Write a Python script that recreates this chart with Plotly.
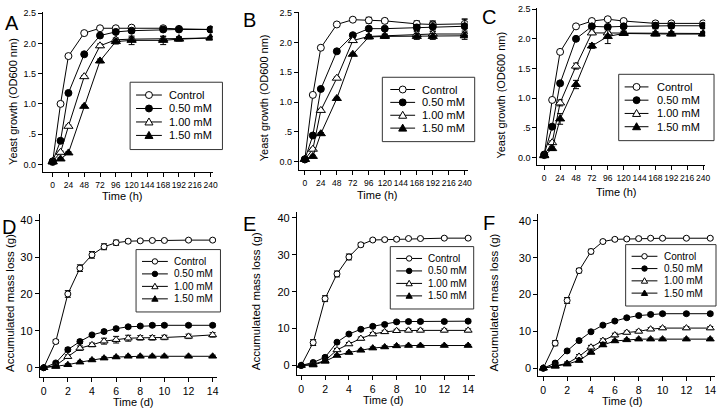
import plotly.graph_objects as go

W, H = 723, 409
FONT = "Arial, Liberation Sans, sans-serif"

series_names = ["Control", "0.50 mM", "1.00 mM", "1.50 mM"]
hours = [0, 12, 24, 48, 72, 96, 120, 168, 192, 240]
days = [0, 1, 2, 3, 4, 5, 6, 7, 8, 9, 10, 12, 14]
hour_ticks = [0, 24, 48, 72, 96, 120, 144, 168, 192, 216, 240]
day_ticks = [0, 2, 4, 6, 8, 10, 12, 14]
od_ticks = [0, 0.5, 1.0, 1.5, 2.0, 2.5]
od_tick_text = ["0.0", ".5", "1.0", "1.5", "2.0", "2.5"]
mass_ticks = [0, 10, 20, 30, 40]

# Panel A - yeast growth (OD600)
a_control = [0.04, 1.00, 1.79, 2.17, 2.25, 2.25, 2.26, 2.25, 2.24, 2.23]
a_050 = [0.05, 0.39, 1.18, 1.82, 2.13, 2.19, 2.21, 2.23, 2.23, 2.23]
a_100 = [0.05, 0.20, 0.63, 1.45, 1.96, 2.06, 2.07, 2.07, 2.08, 2.09]
a_150 = [0.04, 0.09, 0.19, 0.96, 1.71, 2.03, 2.05, 2.05, 2.07, 2.09]
a_err_control = [0.01, 0.02, 0.02, 0.02, 0.02, 0.02, 0.02, 0.03, 0.03, 0.02]
a_err_050 = [0.01, 0.02, 0.02, 0.02, 0.02, 0.02, 0.03, 0.03, 0.03, 0.03]
a_err_100 = [0.01, 0.02, 0.02, 0.02, 0.03, 0.03, 0.03, 0.04, 0.03, 0.02]
a_err_150 = [0.01, 0.02, 0.02, 0.02, 0.03, 0.04, 0.07, 0.07, 0.03, 0.02]

# Panel B
b_control = [0.04, 1.12, 1.91, 2.30, 2.38, 2.37, 2.36, 2.31, 2.30, 2.31]
b_050 = [0.04, 0.44, 1.22, 1.85, 2.12, 2.23, 2.23, 2.25, 2.26, 2.27]
b_100 = [0.04, 0.21, 0.86, 1.40, 2.03, 2.10, 2.11, 2.13, 2.14, 2.14]
b_150 = [0.04, 0.09, 0.47, 1.06, 1.80, 2.09, 2.10, 2.10, 2.10, 2.11]
b_err_control = [0.01, 0.02, 0.02, 0.02, 0.03, 0.05, 0.04, 0.05, 0.06, 0.08]
b_err_050 = [0.01, 0.02, 0.02, 0.02, 0.02, 0.03, 0.03, 0.05, 0.08, 0.12]
b_err_100 = [0.01, 0.02, 0.02, 0.02, 0.03, 0.03, 0.03, 0.05, 0.05, 0.05]
b_err_150 = [0.01, 0.02, 0.02, 0.02, 0.02, 0.03, 0.03, 0.05, 0.05, 0.06]

# Panel C
c_control = [0.04, 0.97, 1.78, 2.21, 2.30, 2.33, 2.30, 2.26, 2.26, 2.26]
c_050 = [0.05, 0.52, 1.25, 2.00, 2.21, 2.20, 2.21, 2.22, 2.22, 2.22]
c_100 = [0.04, 0.25, 0.92, 1.54, 2.10, 2.10, 2.10, 2.09, 2.09, 2.09]
c_150 = [0.03, 0.15, 0.65, 1.23, 1.88, 2.04, 2.09, 2.08, 2.08, 2.08]
c_err_control = [0.01, 0.02, 0.02, 0.02, 0.02, 0.02, 0.02, 0.03, 0.03, 0.03]
c_err_050 = [0.01, 0.03, 0.03, 0.02, 0.03, 0.03, 0.03, 0.05, 0.04, 0.04]
c_err_100 = [0.01, 0.03, 0.05, 0.05, 0.03, 0.03, 0.03, 0.03, 0.03, 0.03]
c_err_150 = [0.01, 0.03, 0.09, 0.07, 0.04, 0.12, 0.03, 0.03, 0.03, 0.03]

# Panel D - accumulated mass loss (g)
d_control = [0, 7.1, 20.0, 27.0, 30.6, 32.8, 33.9, 34.3, 34.4, 34.5, 34.5, 34.6, 34.6]
d_050 = [0, 1.3, 4.9, 7.1, 8.9, 9.8, 10.6, 11.1, 11.3, 11.5, 11.5, 11.5, 11.5]
d_100 = [0, 0.6, 3.0, 5.3, 6.2, 7.2, 7.6, 8.0, 8.1, 8.1, 8.2, 8.5, 8.9]
d_150 = [0, 0.3, 0.8, 1.5, 2.1, 2.6, 2.9, 3.1, 3.1, 3.1, 3.1, 3.1, 3.1]
d_err_control = [0.2, 0.5, 0.9, 0.9, 0.9, 0.8, 0.7, 0.5, 0.4, 0.3, 0.3, 0.3, 0.3]
d_err_050 = [0.2, 0.3, 0.5, 0.5, 0.4, 0.4, 0.4, 0.4, 0.4, 0.4, 0.4, 0.4, 0.4]
d_err_100 = [0.2, 0.3, 0.5, 0.6, 0.5, 0.8, 0.9, 0.8, 0.6, 0.6, 0.6, 0.6, 0.6]
d_err_150 = [0.2, 0.2, 0.3, 0.3, 0.3, 0.3, 0.3, 0.3, 0.3, 0.3, 0.3, 0.3, 0.3]

# Panel E
e_control = [0, 6.2, 18.1, 24.8, 29.4, 32.7, 34.0, 34.1, 34.2, 34.4, 34.4, 34.5, 34.5]
e_050 = [0, 0.8, 2.2, 6.3, 8.5, 9.8, 10.6, 11.1, 11.8, 11.9, 11.9, 11.9, 12.0]
e_100 = [0, 0.3, 1.3, 4.2, 5.8, 7.3, 8.5, 9.1, 9.4, 9.5, 9.5, 9.5, 9.5]
e_150 = [0, 0.1, 1.1, 2.7, 3.5, 4.1, 4.7, 5.0, 5.3, 5.4, 5.4, 5.4, 5.4]
e_err_control = [0.2, 0.8, 0.8, 0.8, 0.8, 0.5, 0.4, 0.4, 0.4, 0.3, 0.3, 0.3, 0.3]
e_err_050 = [0.2, 0.3, 0.4, 0.4, 0.4, 0.4, 0.4, 0.4, 0.4, 0.4, 0.4, 0.4, 0.4]
e_err_100 = [0.2, 0.3, 0.4, 0.4, 0.4, 0.4, 0.4, 0.4, 0.4, 0.4, 0.4, 0.4, 0.4]
e_err_150 = [0.2, 0.2, 0.3, 0.3, 0.3, 0.3, 0.3, 0.3, 0.3, 0.3, 0.3, 0.3, 0.3]

# Panel F
f_control = [0, 6.8, 18.4, 26.5, 31.7, 34.4, 35.0, 35.1, 35.2, 35.3, 35.3, 35.3, 35.3]
f_050 = [0, 1.4, 4.7, 7.5, 9.9, 11.7, 12.8, 13.7, 14.3, 14.6, 14.8, 14.8, 14.8]
f_100 = [0, 0.7, 1.3, 3.2, 5.7, 7.5, 9.0, 9.7, 10.0, 10.6, 10.9, 10.9, 10.9]
f_150 = [0, 0.5, 1.1, 2.1, 4.3, 6.3, 7.4, 7.7, 7.9, 7.9, 7.9, 7.9, 7.9]
f_err_control = [0.2, 0.7, 0.8, 0.6, 0.6, 0.4, 0.4, 0.4, 0.4, 0.3, 0.3, 0.3, 0.3]
f_err_050 = [0.2, 0.3, 0.4, 0.4, 0.4, 0.4, 0.4, 0.4, 0.4, 0.4, 0.4, 0.4, 0.4]
f_err_100 = [0.2, 0.3, 0.4, 0.5, 0.5, 0.5, 0.5, 0.4, 0.4, 0.4, 0.4, 0.4, 0.4]
f_err_150 = [0.2, 0.2, 0.3, 0.4, 0.4, 0.4, 0.3, 0.3, 0.3, 0.3, 0.3, 0.3, 0.3]

panels = [
    dict(letter="A", x=hours, ys=[a_control, a_050, a_100, a_150],
         errs=[a_err_control, a_err_050, a_err_100, a_err_150]),
    dict(letter="B", x=hours, ys=[b_control, b_050, b_100, b_150],
         errs=[b_err_control, b_err_050, b_err_100, b_err_150]),
    dict(letter="C", x=hours, ys=[c_control, c_050, c_100, c_150],
         errs=[c_err_control, c_err_050, c_err_100, c_err_150]),
    dict(letter="D", x=days, ys=[d_control, d_050, d_100, d_150],
         errs=[d_err_control, d_err_050, d_err_100, d_err_150]),
    dict(letter="E", x=days, ys=[e_control, e_050, e_100, e_150],
         errs=[e_err_control, e_err_050, e_err_100, e_err_150]),
    dict(letter="F", x=days, ys=[f_control, f_050, f_100, f_150],
         errs=[f_err_control, f_err_050, f_err_100, f_err_150]),
]

# layout geometry in pixels: plot box (left, right, top, bottom), axis ranges,
# legend box (x0, y0, x1, y1), key line (start, end offsets), text offset
geom = [
    dict(px=(43, 214, 8, 170), xr=(-15.1, 243.0), yr=(-0.131, 2.52),
         leg=(131, 79, 224, 147), key=(6, 32, 37), lt=(12, 19), yt=(13, 98), xt=(123, 194)),
    dict(px=(301, 471, 8, 168), xr=(-8.9, 244.5), yr=(-0.144, 2.51),
         leg=(385, 74, 478, 139), key=(8, 33, 38), lt=(251, 16), yt=(266, 95), xt=(380, 193)),
    dict(px=(541, 710, 4, 163), xr=(-10.5, 243.0), yr=(-0.133, 2.52),
         leg=(623, 71, 719, 138), key=(6, 30, 37), lt=(492, 13), yt=(505, 92), xt=(621, 190)),
    dict(px=(40, 219, 212, 377), xr=(-0.33, 14.4), yr=(-2.6, 41.7),
         leg=(137, 248, 222, 311), key=(6, 32, 36), lt=(9, 225), yt=(10, 302), xt=(134, 402)),
    dict(px=(299, 478, 210, 375), xr=(-0.36, 14.55), yr=(-2.68, 41.6),
         leg=(393, 245, 477, 308), key=(6, 32, 36), lt=(251, 222), yt=(258, 300), xt=(386, 400)),
    dict(px=(542, 720, 212, 376), xr=(-0.42, 14.4), yr=(-2.2, 41.9),
         leg=(630, 243, 721, 305), key=(6, 32, 37), lt=(492, 221), yt=(497, 302), xt=(627, 401)),
]

symbols = ["circle", "circle", "triangle-up", "triangle-up"]
fills = ["white", "black", "white", "black"]


def fx(px):
    return px / W


def fy(py):
    return 1 - py / H


fig = go.Figure()
annotations = []
shapes = []
layout = dict(width=W, height=H, autosize=False,
              margin=dict(l=0, r=0, t=0, b=0),
              paper_bgcolor="white", plot_bgcolor="white",
              font=dict(family=FONT, color="black"),
              showlegend=False)


def add_legend(g, fontsize, msize):
    x0, y0, x1, y1 = g["leg"]
    ks, ke, kt = g["key"]
    h = y1 - y0
    shapes.append(dict(type="rect", xref="paper", yref="paper",
                       x0=fx(x0), x1=fx(x1), y0=fy(y1), y1=fy(y0),
                       fillcolor="white", line=dict(color="#333333", width=1),
                       layer="above"))
    for k, name in enumerate(series_names):
        cy = y0 + h * (0.19 + 0.2 * k)
        cx = x0 + (ks + ke) / 2
        shapes.append(dict(type="line", xref="paper", yref="paper",
                           x0=fx(x0 + ks), x1=fx(x0 + ke), y0=fy(cy), y1=fy(cy),
                           line=dict(color="black", width=1), layer="above"))
        r = msize / 2
        if symbols[k] == "circle":
            shapes.append(dict(type="circle", xref="paper", yref="paper",
                               x0=fx(cx - r), x1=fx(cx + r), y0=fy(cy + r), y1=fy(cy - r),
                               fillcolor=fills[k], line=dict(color="black", width=1),
                               layer="above"))
        else:
            tr = r * 1.15
            path = "M {:.5f} {:.5f} L {:.5f} {:.5f} L {:.5f} {:.5f} Z".format(
                fx(cx), fy(cy - tr), fx(cx - tr), fy(cy + tr * 0.75),
                fx(cx + tr), fy(cy + tr * 0.75))
            shapes.append(dict(type="path", xref="paper", yref="paper", path=path,
                               fillcolor=fills[k], line=dict(color="black", width=1),
                               layer="above"))
        annotations.append(dict(text=name, x=fx(x0 + kt), y=fy(cy),
                                xref="paper", yref="paper", showarrow=False,
                                xanchor="left", yanchor="middle",
                                font=dict(size=fontsize, family=FONT, color="black")))


for i, (p, g) in enumerate(zip(panels, geom)):
    n = i + 1
    sfx = "" if n == 1 else str(n)
    top_row = i < 3
    msize = 7 if top_row else 6
    for k in range(4):
        fig.add_trace(go.Scatter(
            x=p["x"], y=p["ys"][k], name=series_names[k],
            mode="lines+markers",
            line=dict(color="black", width=1),
            marker=dict(symbol=symbols[k], size=msize + (1 if k >= 2 else 0),
                        color=fills[k], line=dict(color="black", width=1)),
            error_y=dict(type="data", array=p["errs"][k], color="black",
                         thickness=1, width=3),
            xaxis="x" + sfx, yaxis="y" + sfx,
        ))
    l, r, t, b = g["px"]
    xdom = [l / W, r / W]
    ydom = [1 - b / H, 1 - t / H]
    tickfs = 8.5 if top_row else 10.5
    ytickfs = 9 if top_row else 11
    xa = dict(domain=xdom, range=list(g["xr"]), anchor="y" + sfx,
              showline=True, linecolor="black", linewidth=1,
              ticks="outside", ticklen=4, tickcolor="black", tickwidth=1,
              showgrid=False, zeroline=False, tickangle=0,
              tickvals=hour_ticks if top_row else day_ticks,
              tickfont=dict(size=tickfs, family=FONT, color="black"))
    ya = dict(domain=ydom, range=list(g["yr"]), anchor="x" + sfx,
              showline=True, linecolor="black", linewidth=1,
              ticks="outside", ticklen=4, tickcolor="black", tickwidth=1,
              showgrid=False, zeroline=False,
              tickfont=dict(size=ytickfs, family=FONT, color="black"))
    if top_row:
        ya.update(tickvals=od_ticks, ticktext=od_tick_text)
    else:
        ya.update(tickvals=mass_ticks)
    layout["xaxis" + sfx] = xa
    layout["yaxis" + sfx] = ya

    add_legend(g, 11 if top_row else 10, 7 if top_row else 5.5)

    # panel letter
    annotations.append(dict(text=p["letter"], x=fx(g["lt"][0]), y=fy(g["lt"][1]),
                            xref="paper", yref="paper", showarrow=False,
                            xanchor="center", yanchor="middle",
                            font=dict(size=20, family=FONT, color="black")))
    # y title
    annotations.append(dict(text="Yeast growth (OD600 nm)" if top_row else "Accumulated mass loss (g)",
                            x=fx(g["yt"][0]), y=fy(g["yt"][1]),
                            xref="paper", yref="paper", showarrow=False,
                            textangle=-90, xanchor="center", yanchor="middle",
                            font=dict(size=11 if top_row else 11.5, family=FONT, color="black")))
    # x title
    annotations.append(dict(text="Time (h)" if top_row else "Time (d)",
                            x=fx(g["xt"][0]), y=fy(g["xt"][1]),
                            xref="paper", yref="paper", showarrow=False,
                            xanchor="center", yanchor="middle",
                            font=dict(size=11, family=FONT, color="black")))

layout["annotations"] = annotations
layout["shapes"] = shapes
fig.update_layout(**layout)
fig.write_html("out.html", config={"displayModeBar": False},
               post_script="document.body.style.margin='0px';document.body.style.overflow='hidden';")
